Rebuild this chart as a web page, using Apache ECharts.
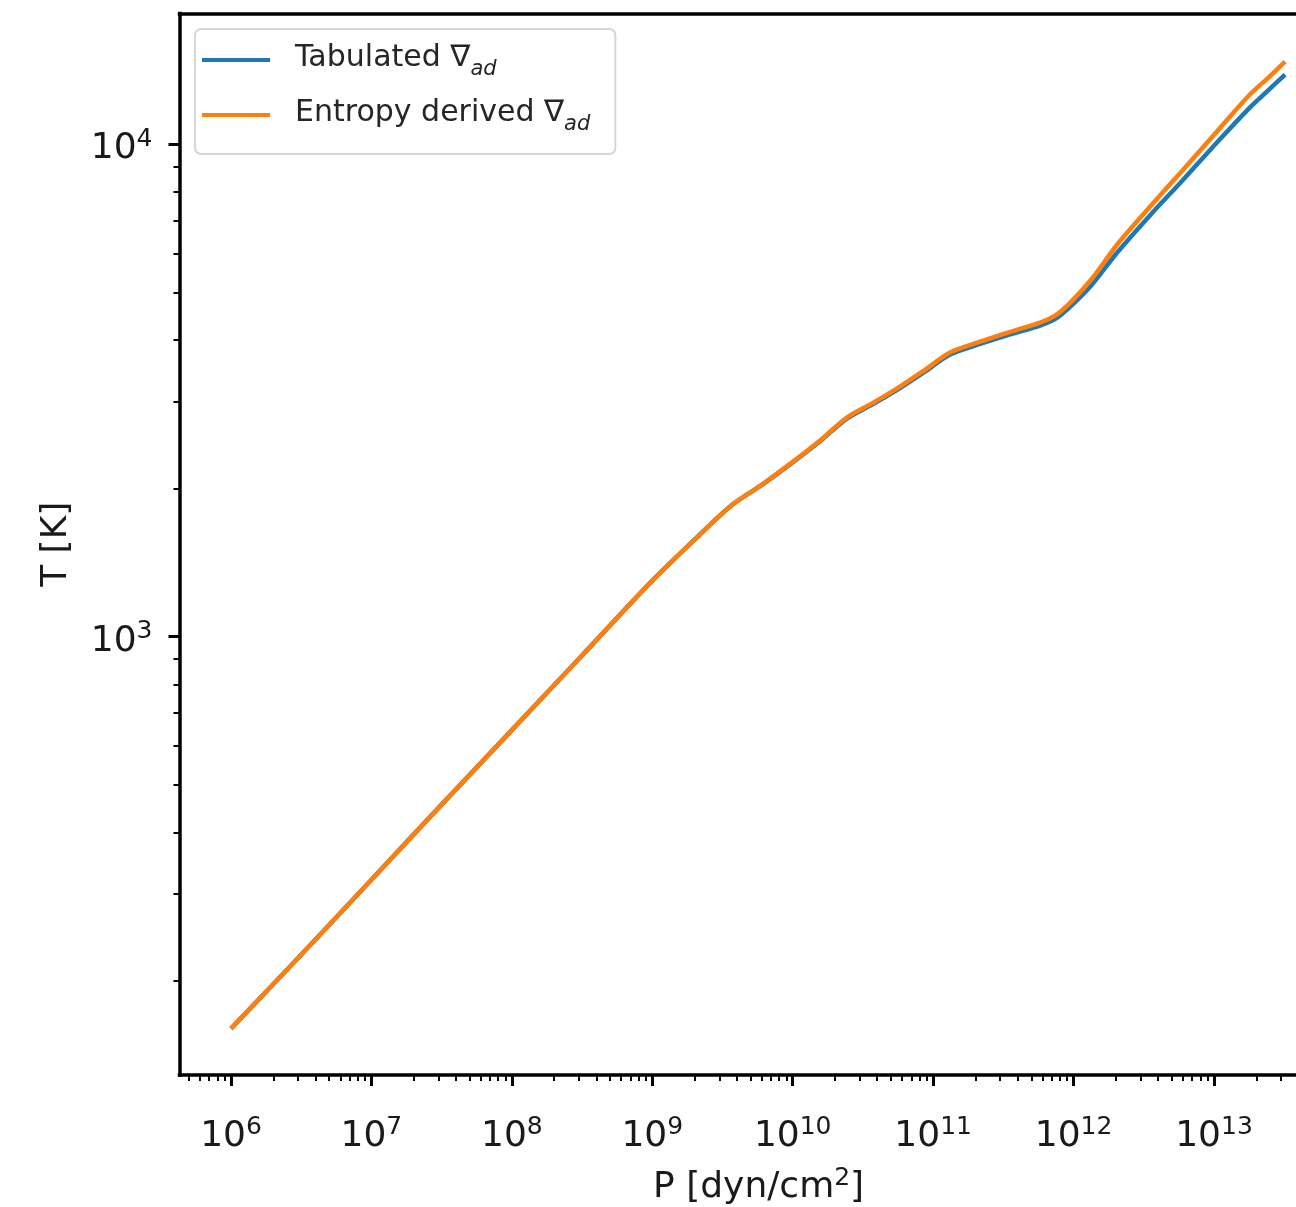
<!DOCTYPE html>
<html>
<head>
<meta charset="utf-8">
<script src="https://cdn.jsdelivr.net/npm/echarts@6/dist/echarts.min.js"></script>
<style>
html,body{margin:0;padding:0;background:#ffffff;}
#chart{width:1296px;height:1207px;}
</style>
</head>
<body>
<div id="chart"></div>
<script>
// ---- data ----
const pressure = [1.0e6, 3.16e6, 1.0e7, 3.16e7, 1.0e8, 3.16e8, 1.0e9, 2.0e9, 3.57e9, 6.04e9,
  1.0e10, 1.59e10, 2.43e10, 3.73e10, 5.81e10, 8.75e10, 1.32e11, 2.16e11, 3.36e11, 5.77e11,
  7.38e11, 9.44e11, 1.35e12, 2.04e12, 3.50e12, 6.01e12, 1.05e13, 1.80e13, 2.40e13, 3.21e13];
const tTabulated = [160, 226, 321, 456, 646, 916, 1300, 1574, 1837, 2034,
  2260, 2504, 2773, 2968, 3199, 3454, 3741, 3931, 4092, 4285,
  4414, 4675, 5185, 6023, 7171, 8465, 10088, 11874, 12820, 13855];
const tEntropy = [160, 226, 321, 456, 646, 916, 1300, 1574, 1837, 2037,
  2265, 2512, 2786, 2985, 3221, 3483, 3776, 3972, 4140, 4345,
  4487, 4764, 5333, 6252, 7464, 8872, 10617, 12618, 13600, 14723];
const seriesNames = ['Tabulated', 'Entropy derived'];
const xMajorExp = [6, 7, 8, 9, 10, 11, 12, 13];
const yMajorExp = [3, 4];
const minorMult = [2, 3, 4, 5, 6, 7, 8, 9];
const xTitle = 'P [dyn/cm';
const yTitle = 'T [K]';

// axis limits in decades (log10)
const xMin = 5.6333, xMax = 13.881;
const yMin = 2.1099, yMax = 4.2656;

function minorTicks(lo, hi) {
  const out = [];
  for (let n = Math.floor(lo); n <= Math.ceil(hi); n++) {
    minorMult.forEach(k => {
      const v = Math.log10(k) + n;
      if (v > lo && v < hi) out.push(v);
    });
  }
  return out;
}
const xMinor = minorTicks(xMin, xMax);
const yMinor = minorTicks(yMin, yMax);

const FONT = 'DejaVu Sans';
const TXT = '#1a1a1a';
const tickRich = {
  b: {fontFamily: FONT, fontSize: 36, lineHeight: 44, color: TXT},
  s: {fontFamily: FONT, fontSize: 25, lineHeight: 25, verticalAlign: 'top', color: TXT}
};
const powFmt = v => '{b|10}{s|' + Math.round(v) + '}';

const toXY = arr => pressure.map((p, i) => [Math.log10(p), Math.log10(arr[i])]);

const chart = echarts.init(document.getElementById('chart'), null, {renderer: 'canvas'});
chart.setOption({
  animation: false,
  backgroundColor: '#ffffff',
  grid: {left: 179.5, top: 13.5, bottom: 132, right: -41.7, containLabel: false, outerBoundsMode: 'none'},
  legend: {
    orient: 'vertical', left: 195, top: 29,
    padding: [11, 25, 19, 7], itemGap: 15,
    itemWidth: 68, itemHeight: 4, icon: 'rect',
    backgroundColor: 'rgba(255,255,255,0.8)',
    borderColor: '#d6d6d6', borderWidth: 2, borderRadius: 6,
    data: seriesNames,
    formatter: name => '{p| }{t|' + name + ' \u2207}{s|ad}',
    textStyle: {
      fontFamily: FONT, fontSize: 30, color: '#262626', lineHeight: 40,
      rich: {
        p: {width: 20, fontSize: 30, lineHeight: 40},
        t: {fontFamily: FONT, fontSize: 30, lineHeight: 40, color: '#262626', padding: [0, 0, 4, 0]},
        s: {fontFamily: FONT, fontSize: 21, lineHeight: 28, verticalAlign: 'bottom', fontStyle: 'italic', color: '#262626'}
      }
    }
  },
  xAxis: [
    {
      type: 'value', position: 'bottom', min: xMin, max: xMax,
      axisLine: {show: true, onZero: false, lineStyle: {color: '#000', width: 3.5, cap: 'square'}},
      axisTick: {show: true, customValues: xMajorExp, length: 11, lineStyle: {color: '#000', width: 3}},
      axisLabel: {show: true, customValues: xMajorExp, formatter: powFmt, margin: 40, rich: tickRich},
      splitLine: {show: false},
      name: '{t|' + xTitle + '}{s|2}{t|]}', nameLocation: 'middle', nameGap: 91,
      nameTextStyle: {
        fontFamily: FONT, fontSize: 36, color: TXT, lineHeight: 44,
        rich: {
          t: {fontFamily: FONT, fontSize: 36, lineHeight: 44, color: TXT},
          s: {fontFamily: FONT, fontSize: 25, lineHeight: 25, verticalAlign: 'top', color: TXT}
        }
      }
    },
    {
      type: 'value', position: 'bottom', min: xMin, max: xMax,
      axisLine: {show: false, onZero: false},
      axisTick: {show: true, customValues: xMinor, length: 6, lineStyle: {color: '#000', width: 2}},
      axisLabel: {show: false},
      splitLine: {show: false}
    },
    {
      type: 'value', position: 'top', min: xMin, max: xMax,
      axisLine: {show: true, onZero: false, lineStyle: {color: '#000', width: 3.5, cap: 'square'}},
      axisTick: {show: false}, axisLabel: {show: false}, splitLine: {show: false}
    }
  ],
  yAxis: [
    {
      type: 'value', position: 'left', min: yMin, max: yMax,
      axisLine: {show: true, onZero: false, lineStyle: {color: '#000', width: 3.5, cap: 'square'}},
      axisTick: {show: true, customValues: yMajorExp, length: 11, lineStyle: {color: '#000', width: 3}},
      axisLabel: {show: true, customValues: yMajorExp, formatter: powFmt, margin: 27, padding: [9, 0, 0, 0], rich: tickRich},
      splitLine: {show: false},
      name: yTitle, nameLocation: 'middle', nameGap: 103, nameRotate: 90,
      nameTextStyle: {fontFamily: FONT, fontSize: 36, color: TXT, lineHeight: 40}
    },
    {
      type: 'value', position: 'left', min: yMin, max: yMax,
      axisLine: {show: false, onZero: false},
      axisTick: {show: true, customValues: yMinor, length: 6, lineStyle: {color: '#000', width: 2}},
      axisLabel: {show: false},
      splitLine: {show: false}
    }
  ],
  series: [
    {
      name: seriesNames[0], type: 'line', xAxisIndex: 0, yAxisIndex: 0,
      data: toXY(tTabulated), showSymbol: false, symbol: 'none', smooth: 0.3,
      color: '#1f77b4', lineStyle: {color: '#1f77b4', width: 4.5}, z: 3
    },
    {
      name: seriesNames[1], type: 'line', xAxisIndex: 0, yAxisIndex: 0,
      data: toXY(tEntropy), showSymbol: false, symbol: 'none', smooth: 0.3,
      color: '#ff7f0e', lineStyle: {color: '#ff7f0e', width: 4.5}, z: 4
    }
  ]
});
</script>
</body>
</html>
